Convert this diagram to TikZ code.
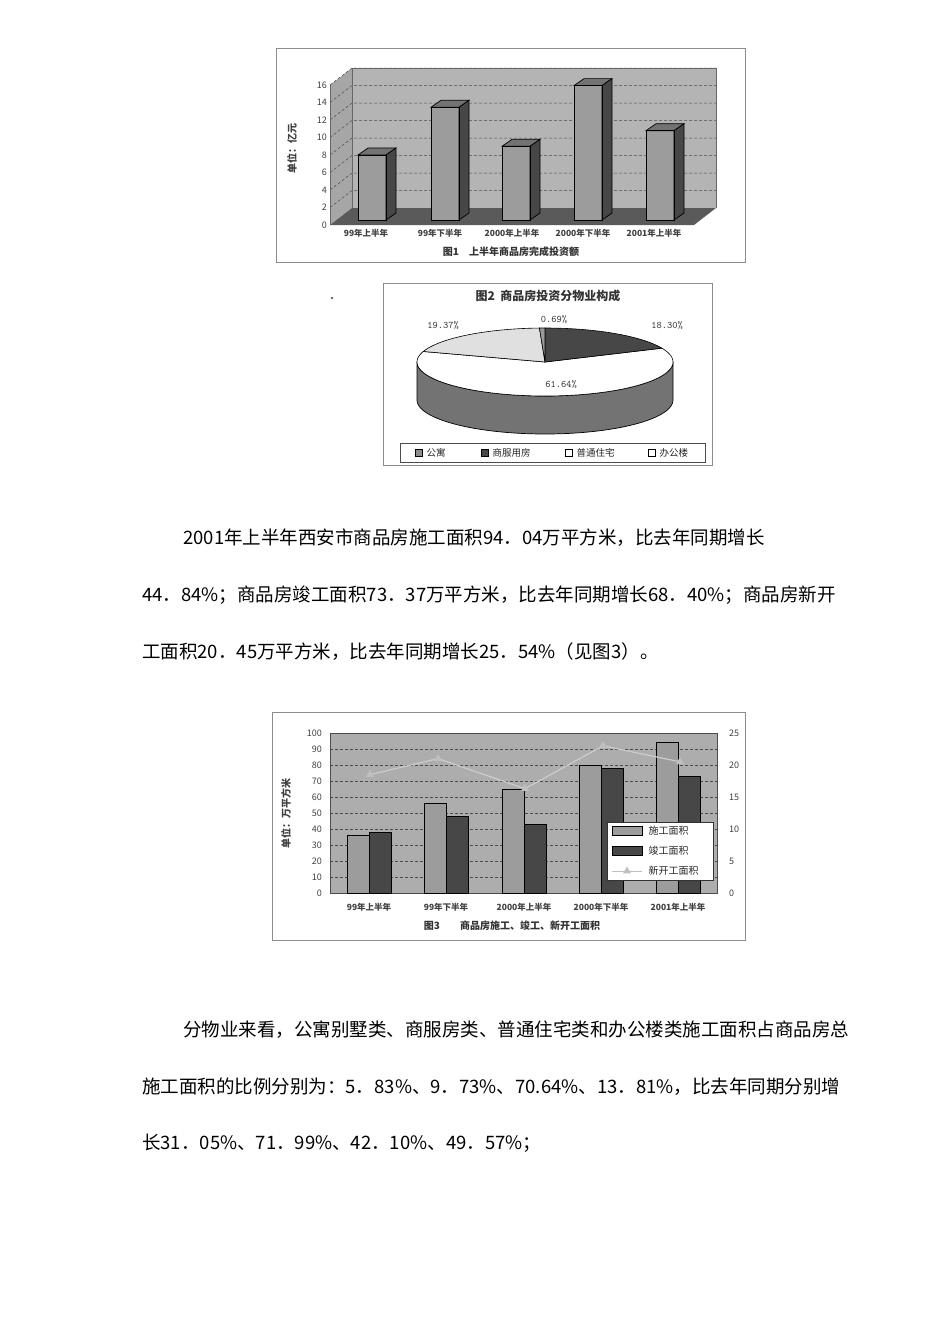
\documentclass[tikz,border=0pt]{standalone}
\usepackage{fontspec}
\setmainfont{Noto Sans CJK SC}
\usetikzlibrary{shapes.geometric}
\definecolor{wall}{HTML}{B4B4B4}
\definecolor{side}{HTML}{A6A6A6}
\definecolor{floorc}{HTML}{5A5A5A}
\definecolor{barl}{HTML}{9C9C9C}
\definecolor{bard}{HTML}{474747}
\definecolor{plotbg}{HTML}{ADADAD}
\tikzset{
  frame/.style={draw=black!45,line width=0.8pt},
  grid/.style={draw=black!70,densely dashed,line width=0.5pt},
  tick/.style={font=\fontsize{9}{9}\selectfont,text=black!75,inner sep=1pt},
  cat/.style={font=\fontsize{8.5}{9}\selectfont\bfseries,text=black!75},
  captxt/.style={font=\fontsize{10}{10}\selectfont\bfseries,text=black!80},
  para/.style={font=\fontsize{18.5}{19}\selectfont,anchor=west,inner sep=0pt},
  bartop/.style={fill=black!55,draw=black,line width=0.7pt},
  barside/.style={fill=bard,draw=black,line width=0.7pt},
  slice/.style={draw=black,line width=0.6pt},
}
\begin{document}
\begin{tikzpicture}[x=1pt,y=-1pt]
\useasboundingbox (0,0) rectangle (950,1344);
\fill[white] (0,0) rectangle (950,1344);
% ===== Chart 1 =====
\draw[frame] (276,48) rectangle (745,262);
\fill[wall] (352,68) rectangle (716,208);
\fill[side] (330,85) -- (352,68) -- (352,208) -- (330,225) -- cycle;
\fill[floorc] (330,225) -- (352,208) -- (716,208) -- (694,225) -- cycle;
\foreach \v in {2,4,...,16}{
  \draw[grid] (330,225-\v*8.75) -- (352,208-\v*8.75) -- (716,208-\v*8.75);
  \node[tick,anchor=east] (ya\v) at (328,225-\v*8.75) {\v};
}
\node[tick,anchor=east] (ya0) at (328,225) {0};
\draw[black!60,line width=0.5pt] (352,68) -- (352,208) (330,85) -- (330,225) (352,68)--(716,68)--(716,208);
\node[rotate=90,font=\fontsize{10}{10}\selectfont\bfseries,text=black!75] (unit1) at (292,148) {单位：亿元};
\foreach \x/\v [count=\i] in {358/7.5,431/13,502/8.5,574/15.5,646/10.3}{
  \pgfmathsetmacro\yt{220-\v*8.67}
  \fill[barl] (\x,220) rectangle (\x+28,\yt);
  \filldraw[bartop] (\x,\yt) -- (\x+10,\yt-7) -- (\x+38,\yt-7) -- (\x+28,\yt) -- cycle;
  \filldraw[barside] (\x+28,\yt) -- (\x+38,\yt-7) -- (\x+38,213) -- (\x+28,220) -- cycle;
  \draw[black,line width=0.7pt] (\x,220) rectangle (\x+28,\yt);
}
\node[cat] (c11) at (366,233) {99年上半年};
\node[cat] (c12) at (440,233) {99年下半年};
\node[cat] (c13) at (512,233) {2000年上半年};
\node[cat] (c14) at (583,233) {2000年下半年};
\node[cat] (c15) at (654,233) {2001年上半年};
\node[captxt] (cap1) at (511,252) {图1\quad 上半年商品房完成投资额};
% ===== Chart 2 =====
\fill[black!60] (332,298) circle (1.3);
\draw[frame] (383,283) rectangle (712,465);
\node[font=\fontsize{12}{12}\selectfont\bfseries,text=black!80] (t2) at (548,296) {图2\ \ 商品房投资分物业构成};
\filldraw[fill=black!55,draw=black,line width=0.7pt] (417,362) -- plot[domain=180:360,samples=60] ({545+128*cos(\x)},{400-34*sin(\x)}) -- (673,362) -- plot[domain=360:180,samples=60] ({545+128*cos(\x)},{362-34*sin(\x)}) -- cycle;
\filldraw[slice,fill=white] (545,362) -- plot[domain=24:-198,samples=90] ({545+128*cos(\x)},{362-34*sin(\x)}) -- cycle;
\filldraw[slice,fill=bard] (545,362) -- plot[domain=90:24,samples=30] ({545+128*cos(\x)},{362-34*sin(\x)}) -- cycle;
\filldraw[slice,fill=black!12] (545,362) -- plot[domain=162:92.5,samples=30] ({545+128*cos(\x)},{362-34*sin(\x)}) -- cycle;
\filldraw[slice,fill=black!40] (545,362) -- plot[domain=92.5:90,samples=3] ({545+128*cos(\x)},{362-34*sin(\x)}) -- cycle;
\tikzset{pct/.style={font=\ttfamily\fontsize{10}{10}\selectfont,text=black!80}}
\node[pct] (p1) at (443,325) {19.37\%};
\node[pct] (p2) at (554,319) {0.69\%};
\node[pct] (p3) at (667,325) {18.30\%};
\node[pct] (p4) at (561,384) {61.64\%};
\draw[frame,black!70] (400,443) rectangle (705,462);
\tikzset{leg/.style={font=\fontsize{9.5}{10}\selectfont,text=black!85,anchor=west}}
\filldraw[fill=black!45,draw=black] (415,449) rectangle (422,456);
\node[leg] (l1) at (423,452.5) {公寓};
\filldraw[fill=bard,draw=black] (481,449) rectangle (488,456);
\node[leg] (l2) at (489,452.5) {商服用房};
\filldraw[fill=white,draw=black] (565,449) rectangle (572,456);
\node[leg] (l3) at (573,452.5) {普通住宅};
\filldraw[fill=white,draw=black] (648,449) rectangle (655,456);
\node[leg] (l4) at (656,452.5) {办公楼};
% ===== Paragraph 1 =====
\node[para] (a1) at (183,538) {2001年上半年西安市商品房施工面积94．04万平方米，比去年同期增长};
\node[para] (a2) at (142,595) {44．84\%；商品房竣工面积73．37万平方米，比去年同期增长68．40\%；商品房新开};
\node[para] (a3) at (142,652) {工面积20．45万平方米，比去年同期增长25．54\%（见图3）。};
% ===== Chart 3 =====
\draw[frame] (272,712) rectangle (745,940);
\fill[plotbg] (330,733) rectangle (717,893);
\foreach \v in {10,20,...,100}{
  \draw[grid] (330,893-\v*1.6) -- (717,893-\v*1.6);
  \node[tick,anchor=east] (yl\v) at (323,893-\v*1.6) {\v};
}
\node[tick,anchor=east] (yl0) at (323,893) {0};
\foreach \v in {0,5,...,25}{
  \node[tick,anchor=west] (yr\v) at (728,893-\v*6.4) {\v};
}
\draw[black!70,line width=0.6pt] (330,733) rectangle (717,893);
\node[rotate=90,font=\fontsize{10}{10}\selectfont\bfseries,text=black!75] (unit3) at (286,813) {单位：万平方米};
\foreach \c/\a/\b in {369/36/38,446/56/48,524/65/43,601/80/78,678/94/73}{
  \filldraw[fill=barl,draw=black,line width=0.8pt] (\c-22,893) rectangle (\c,893-\a*1.6);
  \filldraw[fill=bard,draw=black,line width=0.8pt] (\c,893) rectangle (\c+22,893-\b*1.6);
}
\tikzset{tri/.style={regular polygon,regular polygon sides=3,fill=black!25,inner sep=0pt,minimum size=9pt}}
\node[tri] (n1) at (370,893-18.5*6.4) {};
\node[tri] (n2) at (438,893-21*6.4) {};
\node[tri] (n3) at (525,893-16.3*6.4) {};
\node[tri] (n4) at (603,893-23*6.4) {};
\node[tri] (n5) at (680,893-20.5*6.4) {};
\draw[black!20,line width=1.2pt] (n1.center)--(n2.center)--(n3.center)--(n4.center)--(n5.center);
\foreach \i in {1,...,5}{\node[tri] at (n\i) {};}
\filldraw[fill=white,draw=black!80,line width=0.6pt] (607,822) rectangle (713,880);
\filldraw[fill=barl,draw=black] (612,826) rectangle (642,835);
\node[leg,font=\fontsize{10}{10}\selectfont] (g1) at (645,830.5) {施工面积};
\filldraw[fill=bard,draw=black] (612,846) rectangle (642,855);
\node[leg,font=\fontsize{10}{10}\selectfont] (g2) at (645,850.5) {竣工面积};
\draw[black!25,line width=1pt] (612,871) -- (642,871);
\node[tri] (gt) at (627,871) {};
\node[leg,font=\fontsize{10}{10}\selectfont] (g3) at (645,871) {新开工面积};
\node[cat] (c31) at (369,907) {99年上半年};
\node[cat] (c32) at (446,907) {99年下半年};
\node[cat] (c33) at (524,907) {2000年上半年};
\node[cat] (c34) at (601,907) {2000年下半年};
\node[cat] (c35) at (678,907) {2001年上半年};
\node[captxt] (cap3) at (512,926) {图3\qquad 商品房施工、竣工、新开工面积};
% ===== Paragraph 2 =====
\node[para] (b1) at (183,1030) {分物业来看，公寓别墅类、商服房类、普通住宅类和办公楼类施工面积占商品房总};
\node[para] (b2) at (142,1087) {施工面积的比例分别为：5．83\%、9．73\%、70.64\%、13．81\%，比去年同期分别增};
\node[para] (b3) at (142,1143) {长31．05\%、71．99\%、42．10\%、49．57\%；};
\end{tikzpicture}
\end{document}
